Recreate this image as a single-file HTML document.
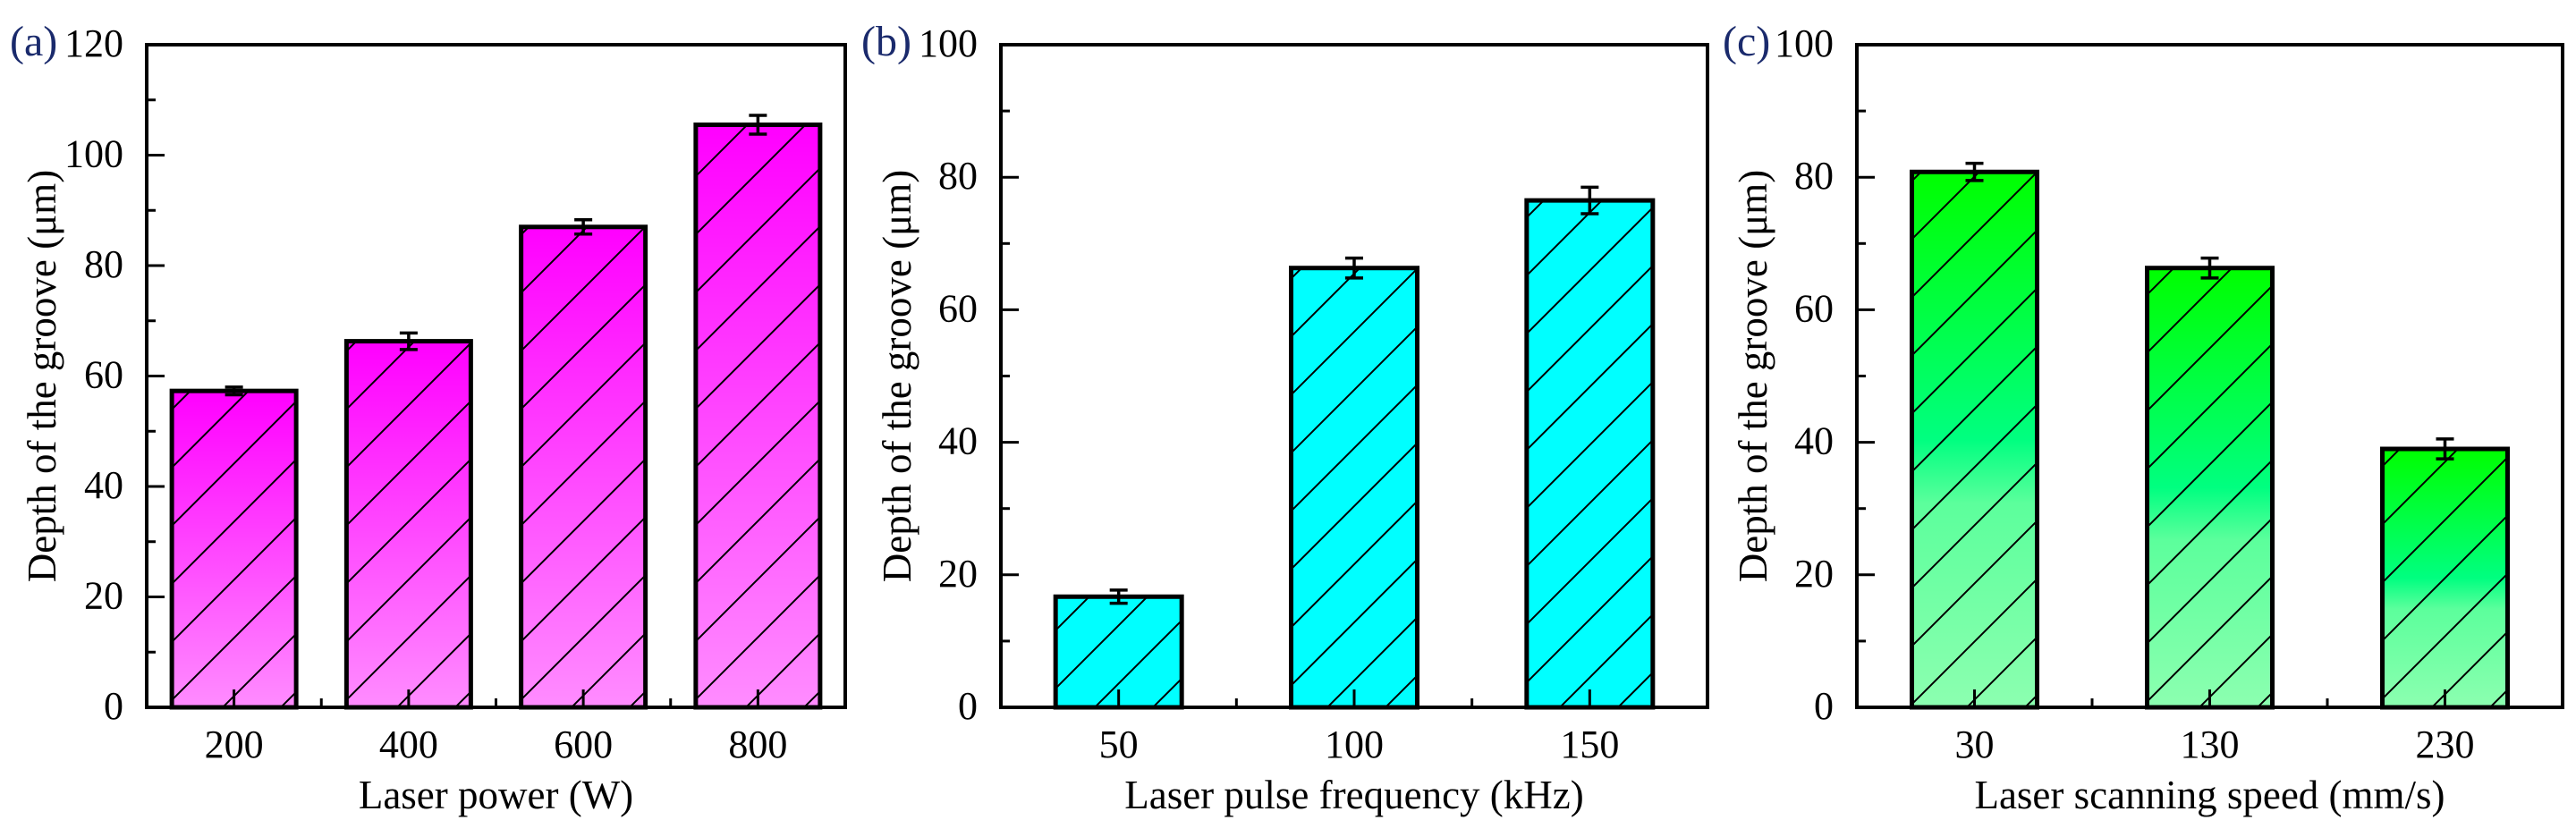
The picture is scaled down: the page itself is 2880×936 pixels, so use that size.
<!DOCTYPE html>
<html><head><meta charset="utf-8"><style>
html,body{margin:0;padding:0;background:#fff;}
svg{display:block;font-family:"Liberation Serif",serif;}
</style></head><body>
<svg id="chart" width="2880" height="936" viewBox="0 0 2880 936" xmlns="http://www.w3.org/2000/svg">
<defs>
<linearGradient id="gMag" x1="0" y1="0" x2="0" y2="1"><stop offset="0" stop-color="#ff00ff"/><stop offset="1" stop-color="#ff8cff"/></linearGradient>
<linearGradient id="gCyan" x1="0" y1="0" x2="0" y2="1"><stop offset="0" stop-color="#00ffff"/><stop offset="1" stop-color="#00ffff"/></linearGradient>
<linearGradient id="gGreen" x1="0" y1="0" x2="0" y2="1"><stop offset="0" stop-color="#00ff00"/><stop offset="0.5" stop-color="#00ff80"/><stop offset="0.62" stop-color="#5cff9c"/><stop offset="1" stop-color="#8cffb0"/></linearGradient>
<pattern id="hatch" patternUnits="userSpaceOnUse" width="65" height="65"><path d="M0,65 L65,0 M-10,10 L10,-10 M55,75 L75,55" stroke="#000" stroke-width="2"/></pattern>
</defs>
</svg>
<script>
// Panel (a)
const catsA = ["200","400","600","800"];
const valsA = [57.3, 66.3, 87.0, 105.5];
const errA = [0.7, 1.5, 1.3, 1.7];
const ticksA = [0,20,40,60,80,100,120];
// Panel (b)
const catsB = ["50","100","150"];
const valsB = [16.7, 66.3, 76.5];
const errB = [1.0, 1.5, 2.0];
const ticksB = [0,20,40,60,80,100];
// Panel (c)
const catsC = ["30","130","230"];
const valsC = [80.8, 66.3, 39.0];
const errC = [1.3, 1.5, 1.5];
const ticksC = [0,20,40,60,80,100];

const NS="http://www.w3.org/2000/svg";
const svg=document.getElementById('chart');
function mk(tag,attrs,parent){const e=document.createElementNS(NS,tag);for(const k in attrs)e.setAttribute(k,attrs[k]);(parent||svg).appendChild(e);return e;}

function panel(cfg){
  const g=mk('g',{});
  
  
  const {L,R,T,B,ymax}=cfg;
  const y=v=>B-(v/ymax)*(B-T);
  const n=cfg.cats.length;
  const step=(R-L)/n;
  const x=i=>L+step*(i+0.5);
  const bw=cfg.bw;
  cfg.vals.forEach((v,i)=>{
    const r=mk('rect',{x:x(i)-bw/2,y:y(v),width:bw,height:B-y(v),fill:cfg.fill},g);
    
    
    const h=mk('rect',{x:x(i)-bw/2,y:y(v),width:bw,height:B-y(v),fill:'url(#hatch)',stroke:'#000','stroke-width':5},g);
    
    
    const e=cfg.err[i];
    const eb=mk('path',{d:`M${x(i)},${y(v+e)}V${y(v-e)}M${x(i)-10},${y(v+e)}H${x(i)+10}M${x(i)-10},${y(v-e)}H${x(i)+10}`,stroke:'#000','stroke-width':3.5,fill:'none'},g);
    
    
    const tk=mk('line',{x1:x(i),x2:x(i),y1:B,y2:B-20,stroke:'#000','stroke-width':3},g);
    
    
    if(i<n-1){const mt=mk('line',{x1:L+step*(i+1),x2:L+step*(i+1),y1:B,y2:B-10,stroke:'#000','stroke-width':3},g);
      
      }
    const tl=mk('text',{x:x(i),y:B+56,'font-size':44,'text-anchor':'middle',fill:'#000'},g);
    tl.textContent=cfg.cats[i];
    
    
  });
  cfg.ticks.forEach((t,j)=>{
    const ly=y(t);
    const tk=mk('line',{x1:L,x2:L+20,y1:ly,y2:ly,stroke:'#000','stroke-width':3},g);
    
    
    if(j<cfg.ticks.length-1){const my=y((t+cfg.ticks[j+1])/2);
      const mt=mk('line',{x1:L,x2:L+10,y1:my,y2:my,stroke:'#000','stroke-width':3},g);
      
      }
    const tl=mk('text',{x:L-26,y:ly+13,'font-size':44,'text-anchor':'end',fill:'#000'},g);
    tl.textContent=String(t);
    
    
  });
  const fr=mk('rect',{x:L,y:T,width:R-L,height:B-T,fill:'none',stroke:'#000','stroke-width':4},g);
  
  
  const xt=mk('text',{x:(L+R)/2,y:904,'font-size':45,'text-anchor':'middle',fill:'#000'},g);
  xt.textContent=cfg.xtitle;
  
  
  const yt=mk('text',{x:0,y:0,'font-size':45,'text-anchor':'middle',fill:'#000',transform:`translate(${cfg.ytx},${(T+B)/2}) rotate(-90)`},g);
  yt.textContent='Depth of the groove (\u03bcm)';
  
  
  const pl=mk('text',{x:cfg.lx,y:62,'font-size':48,fill:'#1a2a6c'},g);
  pl.textContent='('+cfg.id+')';
  
  
}
panel({id:'a',cats:catsA,vals:valsA,err:errA,ticks:ticksA,ymax:120,L:164,R:945,T:50,B:791,bw:139,fill:'url(#gMag)',xtitle:'Laser power (W)',ytx:62,lx:11});
panel({id:'b',cats:catsB,vals:valsB,err:errB,ticks:ticksB,ymax:100,L:1119,R:1909,T:50,B:791,bw:141,fill:'url(#gCyan)',xtitle:'Laser pulse frequency (kHz)',ytx:1018,lx:963});
panel({id:'c',cats:catsC,vals:valsC,err:errC,ticks:ticksC,ymax:100,L:2076,R:2865,T:50,B:791,bw:140,fill:'url(#gGreen)',xtitle:'Laser scanning speed (mm/s)',ytx:1975,lx:1926});
</script>
</body></html>
